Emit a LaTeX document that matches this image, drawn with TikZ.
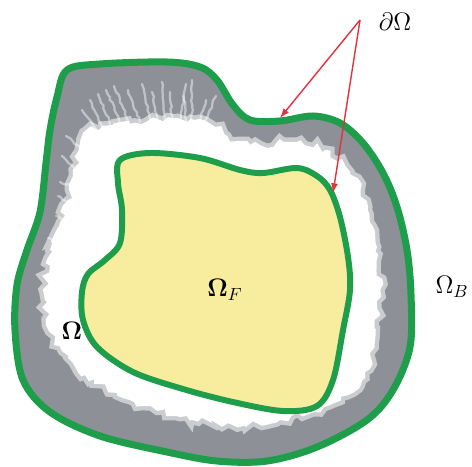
\documentclass[tikz,border=0pt]{standalone}
\usetikzlibrary{arrows.meta,decorations.pathmorphing}
\definecolor{bandgray}{HTML}{8D9097}
\definecolor{fluidyellow}{HTML}{F8EC9E}
\definecolor{wallgreen}{HTML}{1E9E4A}
\definecolor{pointred}{HTML}{E3323E}
\tikzset{
  wall/.style={draw=wallgreen,line width=4pt,line join=round},
  iface/.style={draw=wallgreen,line width=3.4pt,fill=fluidyellow},
  clear/.style={fill=white,draw=white,draw opacity=.55,line width=5pt,
    decorate,decoration={random steps,segment length=3pt,amplitude=2pt}},
  streak/.style={draw=white,opacity=.45,line width=1.3pt,line cap=round,
    decorate,decoration={random steps,segment length=2pt,amplitude=.6pt}},
  lbl/.style={font=\fontsize{14}{16}\selectfont,inner sep=1pt},
  pointer/.style={-{Latex[length=5.5pt,width=4pt]},draw=pointred,line width=0.8pt}
}

\begin{document}
\begin{tikzpicture}[x={(0.02cm,0)},y={(0,-0.02cm)}]
  \useasboundingbox (0,0) rectangle (472,466);
  \pgfmathsetseed{7}

  % body wall with gray band
  \path[wall,fill=bandgray] plot[smooth cycle,tension=0.55] coordinates {
    (67,70) (100,64) (167,62) (200,67) (217,80) (233,105) (250,120)
    (280,121) (313,116) (340,123) (363,143) (383,173) (397,207) (407,250)
    (411,295) (410,347) (393,390) (367,420) (317,447) (267,461) (217,461)
    (167,452) (100,436) (50,412) (23,380) (15,330) (17,285) (27,250)
    (40,212) (46,163) (50,130) (57,97)};

  % white zone
  \path[clear] plot[smooth cycle,tension=0.55] coordinates {
    (85,132) (130,124) (180,119) (215,127) (235,141) (260,145) (290,142)
    (325,150) (350,172) (368,207) (377,247) (380,290) (375,340) (362,380)
    (330,405) (280,420) (230,424) (180,417) (130,400) (85,375) (55,340)
    (45,300) (50,250) (68,200) (77,160)};
  \foreach \a/\b/\c/\d in {100/135/82/110, 105/132/90/100, 112/128/98/94,
      122/126/106/90, 130/124/114/86, 140/122/128/90, 150/120/142/84,
      158/121/152/92, 165/120/162/82, 172/120/170/92, 180/120/186/84,
      186/121/184/96, 192/122/192/80, 198/124/206/100, 203/126/216/96,
      84/150/66/136, 80/172/62/156, 76/188/60/182, 72/205/58/196,
      68/222/56/216, 62/240/48/238}
    \draw[streak] (\a,\b) -- (\c,\d);

  % fluid region
  \path[iface] plot[smooth cycle,tension=0.55] coordinates {
    (120,160) (150,153) (200,158) (240,170) (263,173) (297,168) (317,176)
    (330,190) (340,217) (348,257) (350,290) (343,330) (333,380) (317,406)
    (283,411) (233,402) (183,389) (133,372) (97,347) (83,320) (82,292)
    (88,274) (105,260) (120,243) (122,210) (118,183)};

  \node[lbl] (dom) at (72,331) {$\mathbf{\Omega}$};
  \node[lbl] (fluid) at (225,290) {$\mathbf{\Omega}_F$};
  \node[lbl] (body) at (452,287) {$\Omega_B$};
  \node[lbl] (bdry) at (395,22) {$\partial\Omega$};

  \coordinate (apex) at (360,20);
  \coordinate (outhit) at (280,118);
  \coordinate (inhit) at (333,193);
  \draw[pointer] (apex) -- (outhit);
  \draw[pointer] (apex) -- (inhit);
\end{tikzpicture}
\end{document}
